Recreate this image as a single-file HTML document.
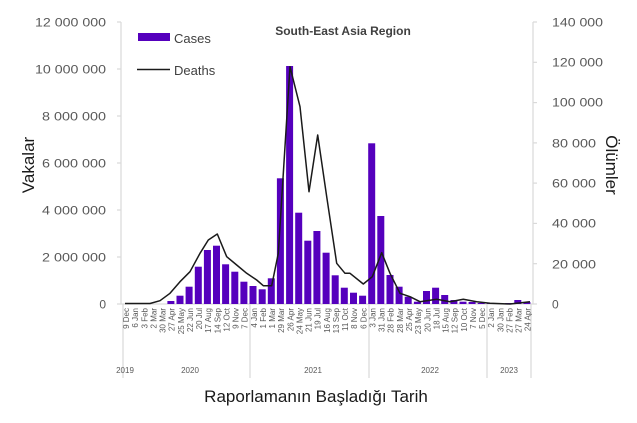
<!DOCTYPE html>
<html><head><meta charset="utf-8"><style>
body{margin:0;background:#fff;}
svg text{font-family:"Liberation Sans",sans-serif;}
</style></head><body>
<svg width="637" height="418" xmlns="http://www.w3.org/2000/svg">
<g stroke="#d9d9d9" stroke-width="1.2">
<line x1="121" y1="22" x2="121" y2="304"/>
<line x1="533" y1="22" x2="533" y2="304"/>
<line x1="117" y1="22" x2="121" y2="22"/><line x1="117" y1="69" x2="121" y2="69"/><line x1="117" y1="116" x2="121" y2="116"/><line x1="117" y1="163" x2="121" y2="163"/><line x1="117" y1="210" x2="121" y2="210"/><line x1="117" y1="257" x2="121" y2="257"/><line x1="117" y1="304" x2="121" y2="304"/>
<line x1="533" y1="22" x2="537" y2="22"/><line x1="533" y1="62.3" x2="537" y2="62.3"/><line x1="533" y1="102.6" x2="537" y2="102.6"/><line x1="533" y1="142.9" x2="537" y2="142.9"/><line x1="533" y1="183.1" x2="537" y2="183.1"/><line x1="533" y1="223.4" x2="537" y2="223.4"/><line x1="533" y1="263.7" x2="537" y2="263.7"/><line x1="533" y1="304" x2="537" y2="304"/>
<line x1="121" y1="304" x2="533" y2="304"/>
<line x1="123" y1="304" x2="123" y2="378"/><line x1="250" y1="304" x2="250" y2="378"/><line x1="369" y1="304" x2="369" y2="378"/><line x1="487" y1="304" x2="487" y2="378"/><line x1="531" y1="304" x2="531" y2="378"/>
</g>
<g font-size="12" fill="#595959" text-anchor="end">
<text x="106" y="26.5" textLength="71" lengthAdjust="spacingAndGlyphs">12 000 000</text><text x="106" y="73.5" textLength="71" lengthAdjust="spacingAndGlyphs">10 000 000</text><text x="106" y="120.5" textLength="64" lengthAdjust="spacingAndGlyphs">8 000 000</text><text x="106" y="167.5" textLength="64" lengthAdjust="spacingAndGlyphs">6 000 000</text><text x="106" y="214.5" textLength="64" lengthAdjust="spacingAndGlyphs">4 000 000</text><text x="106" y="261.5" textLength="64" lengthAdjust="spacingAndGlyphs">2 000 000</text><text x="106" y="308.5">0</text>
</g>
<g font-size="12" fill="#595959">
<text x="552" y="26.5" textLength="51" lengthAdjust="spacingAndGlyphs">140 000</text><text x="552" y="66.5" textLength="51" lengthAdjust="spacingAndGlyphs">120 000</text><text x="552" y="106.5" textLength="51" lengthAdjust="spacingAndGlyphs">100 000</text><text x="552" y="147.5" textLength="44" lengthAdjust="spacingAndGlyphs">80 000</text><text x="552" y="187.5" textLength="44" lengthAdjust="spacingAndGlyphs">60 000</text><text x="552" y="227.5" textLength="44" lengthAdjust="spacingAndGlyphs">40 000</text><text x="552" y="268.5" textLength="44" lengthAdjust="spacingAndGlyphs">20 000</text><text x="552" y="308.5">0</text>
</g>
<g fill="#5500bd">
<rect x="167.4" y="301" width="7" height="3"/><rect x="176.5" y="295.7" width="7" height="8.3"/><rect x="185.6" y="286.7" width="7" height="17.3"/><rect x="194.8" y="266.7" width="7" height="37.3"/><rect x="203.9" y="250" width="7" height="54"/><rect x="213" y="245.7" width="7" height="58.3"/><rect x="222.1" y="264.3" width="7" height="39.7"/><rect x="231.3" y="271.7" width="7" height="32.3"/><rect x="240.4" y="281.7" width="7" height="22.3"/><rect x="249.5" y="286" width="7" height="18"/><rect x="258.7" y="289.3" width="7" height="14.7"/><rect x="267.8" y="278.3" width="7" height="25.7"/><rect x="276.9" y="178.3" width="7" height="125.7"/><rect x="286.1" y="66" width="7" height="238"/><rect x="295.2" y="212.7" width="7" height="91.3"/><rect x="304.3" y="240.7" width="7" height="63.3"/><rect x="313.4" y="231" width="7" height="73"/><rect x="322.6" y="252.7" width="7" height="51.3"/><rect x="331.7" y="275.3" width="7" height="28.7"/><rect x="340.8" y="287.7" width="7" height="16.3"/><rect x="350" y="292.7" width="7" height="11.3"/><rect x="359.1" y="295.7" width="7" height="8.3"/><rect x="368.2" y="143.3" width="7" height="160.7"/><rect x="377.3" y="216" width="7" height="88"/><rect x="386.5" y="275" width="7" height="29"/><rect x="395.6" y="286.7" width="7" height="17.3"/><rect x="404.7" y="296.7" width="7" height="7.3"/><rect x="413.9" y="301.7" width="7" height="2.3"/><rect x="423" y="291" width="7" height="13"/><rect x="432.1" y="287.7" width="7" height="16.3"/><rect x="441.2" y="295" width="7" height="9"/><rect x="450.4" y="300" width="7" height="4"/><rect x="459.5" y="301.7" width="7" height="2.3"/><rect x="468.6" y="302" width="7" height="2"/><rect x="477.7" y="303" width="7" height="1"/><rect x="486.9" y="303.3" width="7" height="0.7"/><rect x="496" y="303.3" width="7" height="0.7"/><rect x="505.1" y="303" width="7" height="1"/><rect x="514.3" y="300" width="7" height="4"/><rect x="523.4" y="302" width="7" height="2"/>
</g>
<polyline fill="none" stroke="#1a1a1a" stroke-width="1.5" stroke-linejoin="round" points="125,303.5 150,303.5 160,300.7 170,293.3 180,281.7 190,271.7 200,253.3 208.3,240 217.3,234 226.7,256.7 236.7,265 246.7,273.3 256.7,280 263.3,285.7 271.7,285.7 278.3,253.3 290,66.7 300,106.7 309,191.7 317.7,135 326.7,196.7 336.7,263.3 345,273.3 350,273.3 363.3,284 372.3,276.7 381.7,252.7 390,273.3 400,293.3 410,296.7 420,301.7 436.7,299.3 450,301.7 463.3,299.3 476.7,301.7 490,303.3 510,304 530,301.7"/>
<rect x="138" y="33" width="32" height="8" fill="#5500bd"/>
<text x="174" y="43" font-size="13" fill="#404040">Cases</text>
<line x1="137" y1="69.5" x2="170" y2="69.5" stroke="#1a1a1a" stroke-width="1.5"/>
<text x="174" y="75" font-size="13" fill="#404040">Deaths</text>
<text x="343" y="35" font-size="12" font-weight="bold" fill="#404040" text-anchor="middle">South-East Asia Region</text>
<text transform="translate(34,165) rotate(-90)" font-size="17" fill="#1a1a1a" text-anchor="middle">Vakalar</text>
<text transform="translate(606,165) rotate(90)" font-size="17" fill="#1a1a1a" text-anchor="middle">Ölümler</text>
<text x="316" y="402" font-size="17" fill="#1a1a1a" text-anchor="middle">Raporlamanın Başladığı Tarih</text>
<g font-size="8" fill="#595959" text-anchor="middle">
<text x="125" y="373">2019</text><text x="190" y="373">2020</text><text x="313" y="373">2021</text><text x="430" y="373">2022</text><text x="509" y="373">2023</text>
</g>
<g font-size="8" fill="#595959" text-anchor="end">
<text transform="translate(129,308) rotate(-90)">9 Dec</text>
<text transform="translate(138.1,308) rotate(-90)">6 Jan</text>
<text transform="translate(147.3,308) rotate(-90)">3 Feb</text>
<text transform="translate(156.4,308) rotate(-90)">2 Mar</text>
<text transform="translate(165.5,308) rotate(-90)">30 Mar</text>
<text transform="translate(174.7,308) rotate(-90)">27 Apr</text>
<text transform="translate(183.8,308) rotate(-90)">25 May</text>
<text transform="translate(192.9,308) rotate(-90)">22 Jun</text>
<text transform="translate(202,308) rotate(-90)">20 Jul</text>
<text transform="translate(211.2,308) rotate(-90)">17 Aug</text>
<text transform="translate(220.3,308) rotate(-90)">14 Sep</text>
<text transform="translate(229.4,308) rotate(-90)">12 Oct</text>
<text transform="translate(238.6,308) rotate(-90)">9 Nov</text>
<text transform="translate(247.7,308) rotate(-90)">7 Dec</text>
<text transform="translate(256.8,308) rotate(-90)">4 Jan</text>
<text transform="translate(265.9,308) rotate(-90)">1 Feb</text>
<text transform="translate(275.1,308) rotate(-90)">1 Mar</text>
<text transform="translate(284.2,308) rotate(-90)">29 Mar</text>
<text transform="translate(293.3,308) rotate(-90)">26 Apr</text>
<text transform="translate(302.5,308) rotate(-90)">24 May</text>
<text transform="translate(311.6,308) rotate(-90)">21 Jun</text>
<text transform="translate(320.7,308) rotate(-90)">19 Jul</text>
<text transform="translate(329.8,308) rotate(-90)">16 Aug</text>
<text transform="translate(339,308) rotate(-90)">13 Sep</text>
<text transform="translate(348.1,308) rotate(-90)">11 Oct</text>
<text transform="translate(357.2,308) rotate(-90)">8 Nov</text>
<text transform="translate(366.4,308) rotate(-90)">6 Dec</text>
<text transform="translate(375.5,308) rotate(-90)">3 Jan</text>
<text transform="translate(384.6,308) rotate(-90)">31 Jan</text>
<text transform="translate(393.7,308) rotate(-90)">28 Feb</text>
<text transform="translate(402.9,308) rotate(-90)">28 Mar</text>
<text transform="translate(412,308) rotate(-90)">25 Apr</text>
<text transform="translate(421.1,308) rotate(-90)">23 May</text>
<text transform="translate(430.3,308) rotate(-90)">20 Jun</text>
<text transform="translate(439.4,308) rotate(-90)">18 Jul</text>
<text transform="translate(448.5,308) rotate(-90)">15 Aug</text>
<text transform="translate(457.6,308) rotate(-90)">12 Sep</text>
<text transform="translate(466.8,308) rotate(-90)">10 Oct</text>
<text transform="translate(475.9,308) rotate(-90)">7 Nov</text>
<text transform="translate(485,308) rotate(-90)">5 Dec</text>
<text transform="translate(494.2,308) rotate(-90)">2 Jan</text>
<text transform="translate(503.3,308) rotate(-90)">30 Jan</text>
<text transform="translate(512.4,308) rotate(-90)">27 Feb</text>
<text transform="translate(521.5,308) rotate(-90)">27 Mar</text>
<text transform="translate(530.7,308) rotate(-90)">24 Apr</text>
</g>
</svg>
</body></html>
